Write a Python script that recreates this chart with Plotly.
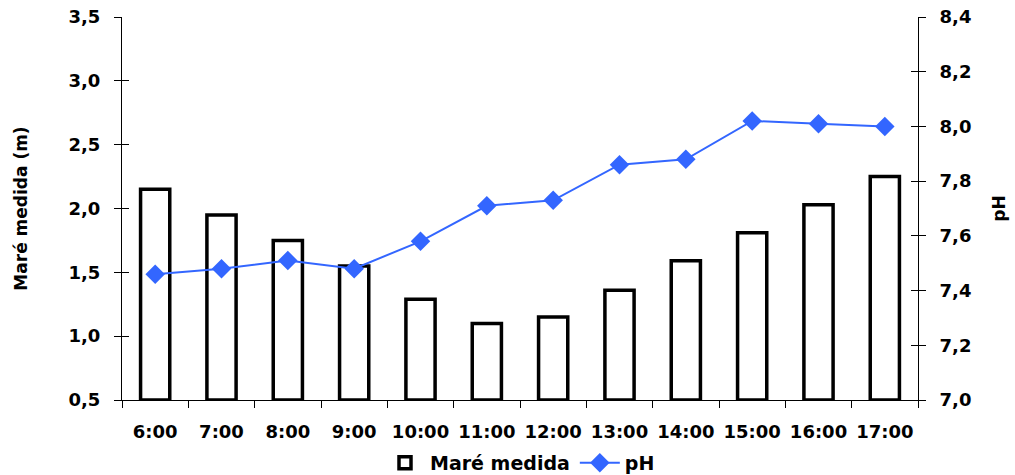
import plotly.graph_objects as go

horas = ["6:00", "7:00", "8:00", "9:00", "10:00", "11:00", "12:00", "13:00", "14:00", "15:00", "16:00", "17:00"]
mare = [2.15, 1.95, 1.75, 1.55, 1.29, 1.10, 1.15, 1.36, 1.59, 1.81, 2.03, 2.25]
ph = [7.46, 7.48, 7.51, 7.48, 7.58, 7.71, 7.73, 7.86, 7.88, 8.02, 8.01, 8.00]

left_ticks = [0.5, 1.0, 1.5, 2.0, 2.5, 3.0, 3.5]
right_ticks = [7.0, 7.2, 7.4, 7.6, 7.8, 8.0, 8.2, 8.4]

FAM = "DejaVu Sans, sans-serif"
tickfont = dict(family=FAM, size=18, color="black", weight="bold")

fig = go.Figure()
fig.add_trace(go.Bar(
    x=horas, y=[m - 0.5 for m in mare], base=0.5, name="<b>Maré medida</b>",
    marker=dict(color="white", line=dict(color="black", width=3.5)),
    width=0.44, yaxis="y",
))
fig.add_trace(go.Scatter(
    x=horas, y=ph, name="<b>pH</b>", mode="lines+markers",
    line=dict(color="#3366FF", width=2),
    marker=dict(symbol="diamond", size=15, color="#3366FF"),
    yaxis="y2",
))
# empty helper traces so the inner tick axes are drawn
fig.add_trace(go.Scatter(x=[horas[0]], y=[None], yaxis="y3", showlegend=False,
                         hoverinfo="skip", mode="markers"))
fig.add_trace(go.Scatter(x=[horas[0]], y=[None], yaxis="y4", showlegend=False,
                         hoverinfo="skip", mode="markers"))

fig.update_layout(
    width=1015, height=475,
    margin=dict(l=122, r=97, t=17, b=75, autoexpand=False),
    paper_bgcolor="white", plot_bgcolor="white",
    separators=",.",
    font=dict(family=FAM, size=17, color="black"),
    showlegend=True,
    legend=dict(orientation="h", x=0.5, xanchor="center", y=-0.164, yanchor="middle",
                font=dict(family=FAM, size=19, color="black"),
                itemwidth=40, traceorder="normal", tracegroupgap=0),
    xaxis=dict(
        range=[-0.5, len(horas) - 0.5],
        showline=True, linecolor="black", linewidth=1,
        ticks="outside", ticklen=7, tickcolor="black", tickson="boundaries",
        tickfont=tickfont, ticklabelstandoff=15, tickangle=0,
        showgrid=False, zeroline=False,
    ),
    yaxis=dict(
        range=[0.5, 3.5], tickvals=left_ticks, tickformat=".1f",
        showline=True, linecolor="black", linewidth=1,
        ticks="outside", ticklen=7, tickcolor="black",
        tickfont=tickfont, ticklabelstandoff=10,
        showgrid=False, zeroline=False,
        title=dict(text="<b>Maré medida (m)</b>", standoff=36,
                   font=dict(family=FAM, size=17, color="black")),
    ),
    yaxis2=dict(
        range=[7.0, 8.4], tickvals=right_ticks, tickformat=".1f",
        overlaying="y", side="right",
        showline=True, linecolor="black", linewidth=1,
        ticks="outside", ticklen=7, tickcolor="black",
        tickfont=tickfont, ticklabelstandoff=10,
        showgrid=False, zeroline=False,
        title=dict(text="<b>pH</b>", standoff=22,
                   font=dict(family=FAM, size=17, color="black")),
    ),
    yaxis3=dict(
        range=[0.5, 3.5], tickvals=left_ticks, overlaying="y", side="left",
        ticks="inside", ticklen=7, tickcolor="black", showticklabels=False,
        showline=False, showgrid=False, zeroline=False,
    ),
    yaxis4=dict(
        range=[7.0, 8.4], tickvals=right_ticks, overlaying="y", side="right",
        ticks="inside", ticklen=7, tickcolor="black", showticklabels=False,
        showline=False, showgrid=False, zeroline=False,
    ),
)

fig.write_html("out.html")
